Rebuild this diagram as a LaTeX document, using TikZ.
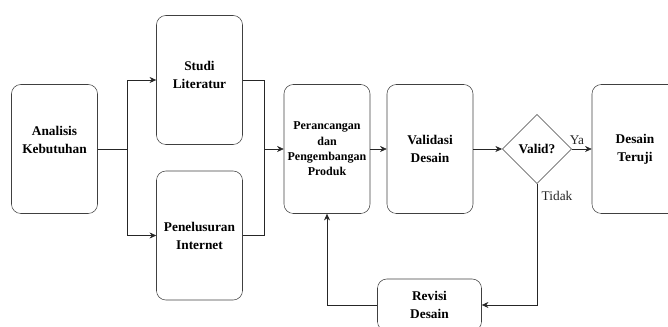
\documentclass[tikz,border=0pt]{standalone}
\usepackage{fontspec}
\setmainfont{Liberation Serif}
\usetikzlibrary{shapes.geometric,arrows.meta}

\tikzset{
  langkah/.style={draw=black!75, rounded corners=7pt, align=center,
    minimum width=64.5pt, minimum height=96.75pt, inner sep=1pt,
    font=\fontsize{10}{13.5}\selectfont\bfseries},
  putusan/.style={draw=black!75, diamond, aspect=1, minimum size=52pt,
    inner sep=0pt, font=\fontsize{10}{12}\selectfont\bfseries},
  panah/.style={-{Stealth[length=5pt,width=4.5pt]}, black!85},
  garis/.style={black!85}
}

\begin{document}
\begin{tikzpicture}[x=0.75pt,y=-0.75pt]

\useasboundingbox (0,0) rectangle (668,327);

\node[langkah] (analisis) at (54.5,149) {Analisis\\Kebutuhan\\[0pt]};

\node[langkah] (studi) at (199.5,80) {Studi\\Literatur\\[-6pt]};

\node[langkah] (internet) at (199.5,235.5) {Penelusuran\\Internet};

\node[langkah, font=\fontsize{9}{11.5}\selectfont\bfseries] (rancang) at (327,149) {Perancangan\\dan\\Pengembangan\\Produk};

\node[langkah] (validasi) at (430,149) {Validasi\\Desain};

\node[putusan] (valid) at (537,149) {Valid?};

\node[langkah] (teruji) at (635,149) {Desain\\Teruji};

\node[langkah, minimum width=78pt, minimum height=39pt] (revisi) at (429.5,305) {Revisi\\Desain};

\coordinate (cabang) at (127,149);
\coordinate (gabung) at (264,149);

% cabang ke dua sumber
\draw[garis] (analisis.east) -- (cabang);
\draw[panah] (cabang) |- (studi.west);
\draw[panah] (cabang) |- (internet.west);

% gabung ke perancangan
\draw[garis] (studi.east) -| (gabung);
\draw[garis] (internet.east) -| (gabung);
\draw[panah] (gabung) -- (rancang.west);

\draw[panah] (rancang) -- (validasi);
\draw[panah] (validasi) -- (valid);
\draw[panah] (valid) -- node[above, pos=0.25, font=\fontsize{10}{12}\selectfont] {Ya} (teruji);

\draw[panah] (valid.south) |- node[right, pos=0.05, font=\fontsize{10}{12}\selectfont] {Tidak} (revisi.east);
\draw[panah] (revisi.west) -| (rancang.south);

\end{tikzpicture}
\end{document}
